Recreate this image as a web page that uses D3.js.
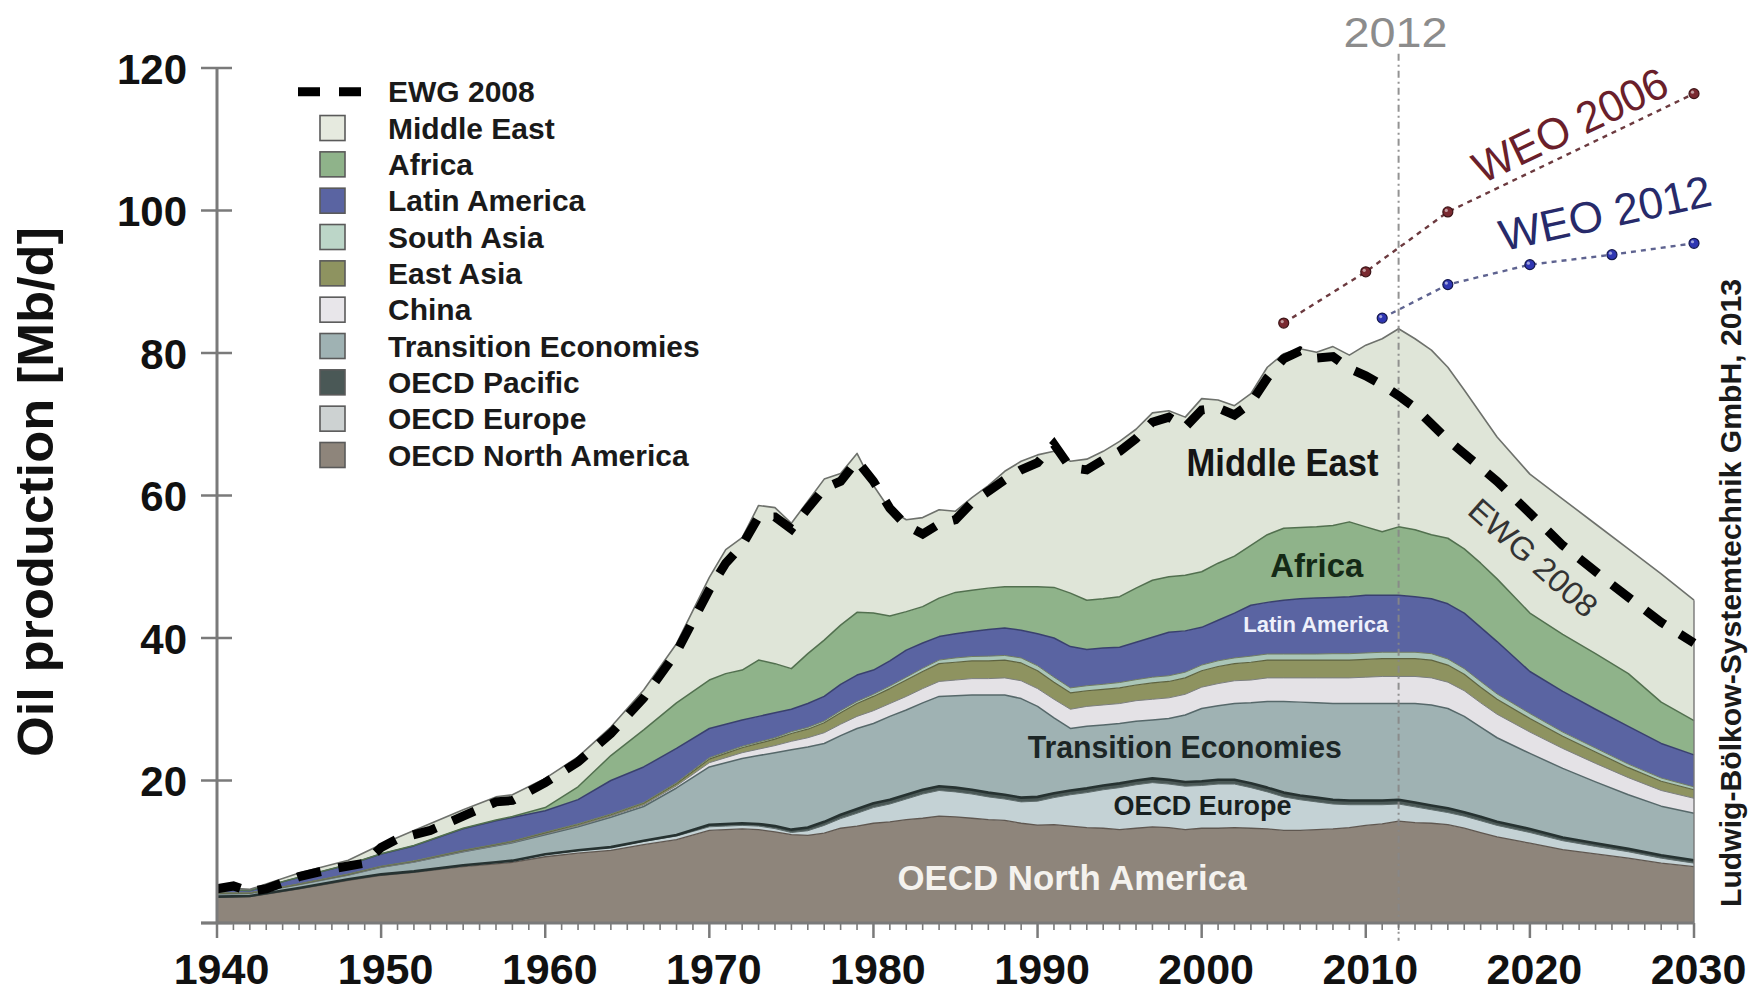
<!DOCTYPE html>
<html><head><meta charset="utf-8">
<script src="https://cdn.jsdelivr.net/npm/d3@7"></script>
<style>
html,body{margin:0;padding:0;background:#fff;}
svg{display:block;font-family:"Liberation Sans",Arial,Helvetica,sans-serif;}
</style></head><body>
<svg id="chart" width="1752" height="996"></svg>
<script>
// ---------------- DATA ----------------
const years = [1940,1942,1945,1948,1950,1952,1955,1957,1958,1960,1962,1964,1966,1968,
  1970,1971,1972,1973,1974,1975,1976,1977,1978,1979,
  1980,1981,1982,1983,1984,1985,1986,1987,1988,1989,
  1990,1991,1992,1993,1994,1995,1996,1997,1998,1999,
  2000,2001,2002,2003,2004,2005,2006,2007,2008,2009,
  2010,2011,2012,2013,2014,2015,2016,2017,2018,
  2020,2022,2024,2026,2028,2030];

const oecdNorthAmerica = [3.6,3.7,4.8,6.0,6.7,7.1,7.9,8.3,8.5,9.3,9.8,10.2,11.0,11.7,
  13.0,13.1,13.2,13.1,12.8,12.4,12.3,12.6,13.3,13.6,
  14.0,14.2,14.5,14.7,15.0,14.9,14.7,14.5,14.4,14.0,
  13.75,13.8,13.6,13.4,13.3,13.1,13.3,13.5,13.4,13.1,
  13.3,13.3,13.4,13.3,13.2,13.0,13.0,13.1,13.2,13.4,
  13.7,13.9,14.3,14.1,14.0,13.8,13.3,12.7,12.1,
  11.2,10.3,9.7,9.1,8.4,7.9];

const oecdEurope = [0.05,0.05,0.05,0.08,0.08,0.1,0.15,0.18,0.2,0.3,0.35,0.4,0.45,0.5,
  0.5,0.5,0.5,0.5,0.45,0.3,0.65,1.1,1.35,1.8,
  2.2,2.5,2.9,3.4,3.6,3.5,3.4,3.2,3.0,3.0,
  3.35,3.8,4.4,4.9,5.4,5.9,6.1,6.2,6.1,6.1,
  6.0,6.2,6.1,5.7,5.2,4.7,4.3,3.9,3.5,3.2,
  2.9,2.7,2.4,2.2,1.9,1.7,1.7,1.65,1.6,
  1.5,1.25,1.05,0.9,0.7,0.5];

const oecdPacific = [0.05,0.05,0.05,0.05,0.05,0.05,0.05,0.05,0.05,0.05,0.05,0.05,0.1,0.15,
  0.3,0.3,0.3,0.3,0.35,0.4,0.45,0.5,0.55,0.6,
  0.6,0.6,0.6,0.6,0.6,0.6,0.6,0.6,0.6,0.6,
  0.6,0.6,0.6,0.6,0.6,0.6,0.6,0.6,0.6,0.6,
  0.6,0.6,0.6,0.6,0.6,0.6,0.6,0.6,0.6,0.6,
  0.6,0.6,0.6,0.6,0.6,0.6,0.55,0.55,0.5,
  0.5,0.45,0.45,0.4,0.4,0.4];

const transitionEconomies = [0.4,0.35,0.5,0.6,1.0,1.3,1.9,2.3,2.5,2.75,3.3,4.2,4.8,6.6,
  8.1,8.6,9.1,9.6,10.3,11.2,11.3,11.0,11.1,11.3,
  11.2,11.7,11.9,12.2,12.6,12.9,13.3,13.7,14.0,13.9,
  12.7,10.6,8.7,8.7,8.5,8.4,8.3,8.2,8.6,9.4,
  10.2,10.4,10.7,11.3,12.1,12.8,13.1,13.3,13.5,13.6,
  13.6,13.6,13.5,13.9,14.1,14.0,13.45,12.6,11.8,
  10.6,9.7,8.6,7.6,6.9,6.6];

const china = [0,0,0,0,0,0,0.02,0.03,0.05,0.1,0.12,0.15,0.2,0.3,
  0.6,0.7,0.8,0.9,1.0,1.2,1.3,1.5,1.6,1.7,
  1.8,1.8,1.9,2.0,2.1,2.2,2.3,2.3,2.4,2.5,
  2.5,2.6,2.7,2.8,2.8,2.8,2.9,2.9,2.9,2.9,
  3.0,3.1,3.2,3.2,3.3,3.3,3.4,3.5,3.6,3.6,
  3.7,3.8,3.8,3.8,3.8,3.7,3.6,3.4,3.3,
  3.0,2.8,2.6,2.4,2.2,2.1];

const eastAsia = [0.1,0.05,0.05,0.1,0.1,0.12,0.15,0.15,0.15,0.15,0.2,0.2,0.25,0.3,
  0.5,0.6,0.7,0.8,0.9,1.1,1.2,1.4,1.6,1.8,
  2.0,2.1,2.3,2.4,2.5,2.5,2.5,2.5,2.5,2.5,
  2.5,2.4,2.3,2.2,2.2,2.2,2.2,2.3,2.3,2.3,
  2.3,2.4,2.4,2.5,2.5,2.5,2.5,2.5,2.5,2.5,
  2.5,2.5,2.5,2.5,2.5,2.4,2.3,2.2,2.1,
  1.9,1.7,1.6,1.4,1.3,1.2];

const southAsia = [0.05,0.05,0.05,0.05,0.05,0.05,0.05,0.05,0.05,0.1,0.1,0.1,0.1,0.15,
  0.2,0.2,0.2,0.2,0.2,0.25,0.25,0.25,0.3,0.3,
  0.3,0.35,0.4,0.45,0.5,0.6,0.6,0.65,0.65,0.7,
  0.7,0.7,0.7,0.7,0.7,0.75,0.75,0.8,0.8,0.8,
  0.8,0.8,0.8,0.85,0.85,0.85,0.85,0.85,0.9,0.9,
  0.9,0.9,0.9,0.9,0.9,0.85,0.8,0.8,0.75,
  0.7,0.6,0.55,0.5,0.45,0.4];

const latinAmerica = [0.4,0.3,0.9,1.3,1.7,2.1,3.0,3.3,3.3,3.0,3.4,4.7,5.0,4.8,
  4.1,3.9,3.7,3.6,3.5,3.15,3.35,3.45,3.7,3.7,
  3.4,3.55,3.8,3.55,3.3,3.4,3.5,3.75,3.85,3.9,
  4.5,5.5,5.8,5.1,5.1,4.95,5.25,5.6,6.1,5.8,
  5.3,5.7,6.3,7.15,7.25,7.55,7.75,7.85,7.9,8.0,
  8.1,8.0,8.0,7.8,7.7,7.75,7.8,7.6,7.35,
  5.9,5.7,5.45,5.3,4.85,4.5];

const africa = [0.02,0.02,0.02,0.03,0.05,0.06,0.08,0.1,0.15,0.45,1.8,3.5,5.2,6.4,
  6.8,7.1,7.0,7.9,6.9,5.7,7.0,7.9,8.3,8.8,
  8.0,6.3,5.4,5.1,5.4,5.8,5.8,5.8,5.8,6.1,
  6.6,7.1,7.5,6.9,6.9,7.1,7.6,8.0,7.8,7.8,
  7.8,8.0,8.0,8.4,9.5,10.1,10.0,10.0,10.1,10.5,
  9.6,8.9,9.6,9.4,9.0,9.2,9.0,9.0,8.8,
  8.2,8.0,7.8,7.4,5.8,4.8];

const middleEast = [0.33,0.15,0.6,0.6,1.3,2.1,2.6,3.24,3.05,4.1,4.2,4.0,5.6,8.3,
  14.4,17.4,18.6,21.7,21.9,20.4,21.4,22.6,21.3,22.3,
  17.9,14.9,12.9,12.5,12.4,11.4,13.0,14.4,16.2,17.6,
  18.5,19.1,18.5,19.8,20.7,21.8,22.3,23.5,23.3,22.2,
  24.3,22.9,21.1,21.3,23.5,24.5,25.1,24.5,25.1,23.4,
  25.5,27.1,27.8,26.8,25.9,24.0,22.3,21.0,19.9,
  19.5,19.0,18.2,17.5,18.0,16.9];

const ewgYears = [1940,1941,1942,1943,1945,1947,1948,1949,1950,1951,1953,1955,1957,1958,1960,1962,1964,1966,1968,
  1970,1971,1972,1973,1974,1975,1976,1977,1978,1979,1980,1981,1982,1983,1984,1985,1986,1987,1988,1989,
  1990,1991,1992,1993,1994,1995,1996,1997,1998,1999,2000,2001,2002,2003,2004,2005,2006,2007,2008,2009,
  2010,2011,2012,2013,2015,2018,2020,2022,2025,2028,2030];
const ewg2008 = [4.8,5.2,4.4,4.8,6.5,7.6,8.0,8.4,10.6,11.8,13.0,15.0,17.0,17.2,19.7,22.6,26.6,31.6,38.0,
  46.8,50.5,53.0,57.0,57.0,55.3,58.2,61.0,62.0,64.9,62.0,58.2,55.8,54.6,56.0,56.6,59.0,60.6,62.2,63.6,
  64.6,67.2,63.9,63.6,65.0,66.2,68.0,70.3,71.0,69.6,72.0,72.3,71.3,73.0,76.5,79.2,80.3,79.3,79.5,77.8,
  76.8,75.5,74.0,72.3,67.8,62.0,57.5,53.0,47.5,42.2,39.3];

const weo2006Years = [2005,2010,2015,2030];
const weo2006 = [84.2,91.4,99.8,116.4];
const weo2012Years = [2011,2015,2020,2025,2030];
const weo2012 = [84.9,89.6,92.4,93.8,95.4];

const xTickYears = [1940,1950,1960,1970,1980,1990,2000,2010,2020,2030];
const yTickValues = [0,20,40,60,80,100,120];

const seriesNames = ["OECD North America","OECD Europe","OECD Pacific","Transition Economies","China",
  "East Asia","South Asia","Latin America","Africa","Middle East"];
const seriesValues = [oecdNorthAmerica,oecdEurope,oecdPacific,transitionEconomies,china,
  eastAsia,southAsia,latinAmerica,africa,middleEast];
const legendOrder = ["Middle East","Africa","Latin America","South Asia","East Asia","China",
  "Transition Economies","OECD Pacific","OECD Europe","OECD North America"];

// ---------------- STYLE ----------------
const fills = {
  "Middle East":"#dfe5d8","Africa":"#8fb38a","Latin America":"#5a64a2","South Asia":"#aac6b8",
  "East Asia":"#8e9360","China":"#e4e2e6","Transition Economies":"#9fb2b3","OECD Pacific":"#4a5856",
  "OECD Europe":"#c4d2d5","OECD North America":"#8e857b"};
const legendFills = Object.assign({}, fills, {"Middle East":"#e6eadf","South Asia":"#bcd6c8","China":"#e8e6ea","OECD Europe":"#cdd2d2"});
const edge = {
  "Middle East":["#6e716c",1.6],"Africa":["#52704f",1.5],"Latin America":["#39406e",1.5],
  "South Asia":["#6f7c62",1.0],"East Asia":["#5e6340",1.2],"China":["#7c7f80",1.0],
  "Transition Economies":["#56686a",1.5],"OECD Pacific":["#263231",2.6],"OECD Europe":["#5e6c6c",1.0],
  "OECD North America":["#5f5750",1.3]};

const W = 1752, H = 996;
const svg = d3.select("#chart");
svg.append("rect").attr("width",W).attr("height",H).attr("fill","#fff");

const x = d3.scaleLinear().domain([1940,2030]).range([217,1694]);
const y = d3.scaleLinear().domain([0,120]).range([923,68]);

const rows = years.map((yr,i)=>{
  const r = {year:yr};
  seriesNames.forEach((n,k)=>{ r[n] = seriesValues[k][i]; });
  return r;
});
const stacked = d3.stack().keys(seriesNames)(rows);

const area = d3.area().x(d=>x(d.data.year)).y0(d=>y(d[0])).y1(d=>y(d[1]));
const topLine = d3.line().x(d=>x(d.data.year)).y(d=>y(d[1]));

const gA = svg.append("g");
gA.selectAll("path.area").data(stacked).join("path")
  .attr("class","area").attr("d",area).attr("fill",d=>fills[d.key]).attr("stroke","none");
gA.selectAll("path.edge").data(stacked).join("path")
  .attr("class","edge").attr("d",topLine).attr("fill","none")
  .attr("stroke",d=>edge[d.key][0]).attr("stroke-width",d=>edge[d.key][1]).attr("stroke-linejoin","round");
// right edge of the stack
const last = stacked[stacked.length-1];
const lastPt = last[last.length-1];
gA.append("line").attr("x1",x(lastPt.data.year)).attr("x2",x(lastPt.data.year))
  .attr("y1",y(lastPt[1])).attr("y2",y(0)).attr("stroke","#777").attr("stroke-width",1.4);

// 2012 marker line
svg.append("line").attr("x1",x(2012)).attr("x2",x(2012)).attr("y1",y(122)).attr("y2",y(-2.5))
  .attr("stroke","#888").attr("stroke-width",2).attr("stroke-dasharray","7,4,2,4").attr("opacity",0.9);
svg.append("text").attr("x",x(2012)-3).attr("y",y(122.95)).attr("text-anchor","middle")
  .attr("font-size",42).attr("fill","#8c8c8c").attr("textLength",104).attr("lengthAdjust","spacingAndGlyphs").text("2012");

// EWG 2008 dashed line
const lineXY = d3.line().x(d=>x(d[0])).y(d=>y(d[1]));
svg.append("path").datum(ewgYears.map((yr,i)=>[yr,ewg2008[i]])).attr("d",lineXY)
  .attr("fill","none").attr("stroke","#000").attr("stroke-width",9).attr("stroke-dasharray","24,18");

// WEO projections
const weo = [
  {yrs:weo2006Years, vals:weo2006, line:"#6c3a3f", dot:"#7a2a31", dotEdge:"#3d1518"},
  {yrs:weo2012Years, vals:weo2012, line:"#5e6390", dot:"#2f36b2", dotEdge:"#15184d"}];
weo.forEach(s=>{
  const pts = s.yrs.map((yr,i)=>[yr,s.vals[i]]);
  svg.append("path").datum(pts).attr("d",lineXY).attr("fill","none")
    .attr("stroke",s.line).attr("stroke-width",2.4).attr("stroke-dasharray","5,5");
  svg.append("g").selectAll("circle").data(pts).join("circle")
    .attr("cx",d=>x(d[0])).attr("cy",d=>y(d[1])).attr("r",5)
    .attr("fill",s.dot).attr("stroke",s.dotEdge).attr("stroke-width",1.2);
  svg.append("g").selectAll("circle").data(pts).join("circle")
    .attr("cx",d=>x(d[0])-1.5).attr("cy",d=>y(d[1])-1.5).attr("r",1.6).attr("fill","#fff").attr("opacity",0.55);
});

// rotated annotations
function rotText(yr, val, ang, txt, size, color, weight, len){
  const t = svg.append("text").attr("transform",`translate(${x(yr)},${y(val)}) rotate(${ang})`)
    .attr("text-anchor","middle").attr("dominant-baseline","central")
    .attr("font-size",size).attr("fill",color).attr("font-weight",weight).text(txt);
  if(len) t.attr("textLength",len).attr("lengthAdjust","spacingAndGlyphs");
  return t;
}
rotText(2022.45,112.0,-25.5,"WEO 2006",44,"#6a1f2b","normal",210);
rotText(2024.58,99.65,-12.4,"WEO 2012",44,"#272a6a","normal",216);
rotText(2020.19,51.23,41.6,"EWG 2008",32,"#333","normal",160);

// area labels
function areaLabel(yr,val,txt,size,color,len){
  const t = svg.append("text").attr("x",x(yr)).attr("y",y(val)).attr("text-anchor","middle")
    .attr("font-size",size).attr("font-weight","bold").attr("fill",color).text(txt);
  if(len) t.attr("textLength",len).attr("lengthAdjust","spacingAndGlyphs");
}
areaLabel(2004.93,62.74,"Middle East",39,"#151515",192);
areaLabel(2007.01,48.56,"Africa",33,"#142a16",93);
areaLabel(2006.95,40.84,"Latin America",22,"#eef0fb",145);
areaLabel(1998.97,23.16,"Transition Economies",31,"#1c2626",314);
areaLabel(2000.05,15.16,"OECD Europe",27,"#182020",178);
areaLabel(1992.1,4.63,"OECD North America",35,"#f4f2ee",349);

// ---------------- AXES ----------------
const axisColor = "#7a7a7a";
// y axis
const yAxis = svg.append("g").attr("transform",`translate(${x(1940)},0)`)
  .call(d3.axisLeft(y).tickValues(yTickValues).tickSize(0).tickPadding(30)
    .tickFormat(v=> v===0 ? "" : d3.format("d")(v)));
yAxis.select(".domain").remove();
yAxis.selectAll("text").attr("font-size",42).attr("font-weight","bold").attr("fill","#111")
  .attr("font-family","Liberation Sans, Arial, sans-serif").attr("dy","0.36em");
svg.append("line").attr("x1",x(1940)).attr("x2",x(1940)).attr("y1",y(0)).attr("y2",y(120))
  .attr("stroke",axisColor).attr("stroke-width",3);
svg.append("g").selectAll("line").data(yTickValues).join("line")
  .attr("x1",x(1940)-16).attr("x2",x(1940)+15).attr("y1",d=>y(d)).attr("y2",d=>y(d))
  .attr("stroke",axisColor).attr("stroke-width",2.5);

// x axis
svg.append("line").attr("x1",x(1940)-16).attr("x2",x(2030)).attr("y1",y(0)).attr("y2",y(0))
  .attr("stroke",axisColor).attr("stroke-width",3);
const minorYears = d3.range(1941,2030).filter(v=>v%10!==0);
svg.append("g").selectAll("line").data(minorYears).join("line")
  .attr("x1",d=>x(d)).attr("x2",d=>x(d)).attr("y1",y(0)).attr("y2",y(0)+7)
  .attr("stroke",axisColor).attr("stroke-width",1.6);
svg.append("g").selectAll("line").data(xTickYears).join("line")
  .attr("x1",d=>x(d)).attr("x2",d=>x(d)).attr("y1",y(0)).attr("y2",y(0)+15)
  .attr("stroke",axisColor).attr("stroke-width",2.5);
const xAxis = svg.append("g").attr("transform",`translate(4,${y(0)})`)
  .call(d3.axisBottom(x).tickValues(xTickYears).tickSize(0).tickPadding(30).tickFormat(d3.format("d")));
xAxis.select(".domain").remove();
xAxis.selectAll("text").attr("font-size",43).attr("font-weight","bold").attr("fill","#111")
  .attr("font-family","Liberation Sans, Arial, sans-serif");

// axis title
svg.append("text").attr("transform","translate(53,492) rotate(-90)").attr("text-anchor","middle")
  .attr("font-size",50).attr("font-weight","bold").attr("fill","#111")
  .attr("textLength",530).attr("lengthAdjust","spacingAndGlyphs").text("Oil production [Mb/d]");

// credit
svg.append("text").attr("transform","translate(1741,593) rotate(-90)").attr("text-anchor","middle")
  .attr("font-size",29).attr("font-weight","bold").attr("fill","#1a1a1a")
  .attr("textLength",628).attr("lengthAdjust","spacingAndGlyphs").text("Ludwig-Bölkow-Systemtechnik GmbH, 2013");

// ---------------- LEGEND ----------------
const legY0 = 91.7, legStep = 36.33;
const leg = svg.append("g");
leg.append("line").attr("x1",298).attr("x2",361).attr("y1",legY0).attr("y2",legY0)
  .attr("stroke","#000").attr("stroke-width",9).attr("stroke-dasharray","22,19");
leg.append("text").attr("x",388).attr("y",legY0).attr("dy","0.35em")
  .attr("font-size",30).attr("font-weight","bold").attr("fill","#1a1a1a").text("EWG 2008");
legendOrder.forEach((n,i)=>{
  const cy = legY0 + legStep*(i+1);
  leg.append("rect").attr("x",320).attr("y",cy-12.5).attr("width",25).attr("height",25)
    .attr("fill",legendFills[n]).attr("stroke","#5a5a5a").attr("stroke-width",1.6);
  leg.append("text").attr("x",388).attr("y",cy).attr("dy","0.35em")
    .attr("font-size",30).attr("font-weight","bold").attr("fill","#1a1a1a").text(n);
});
</script>
</body></html>
